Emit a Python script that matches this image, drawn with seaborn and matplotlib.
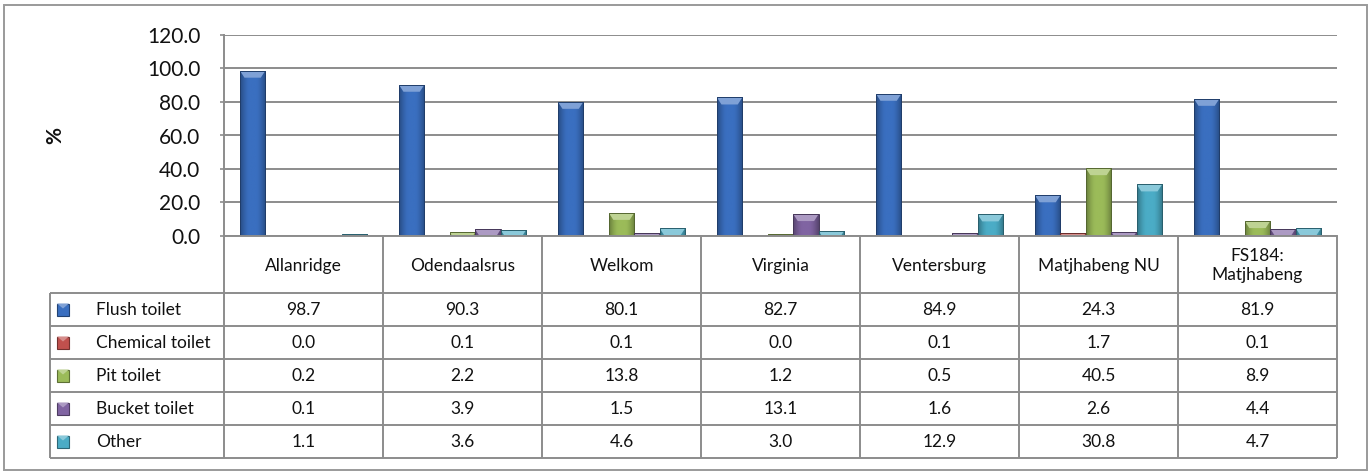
import matplotlib
matplotlib.use("Agg")
import matplotlib.pyplot as plt
from matplotlib.lines import Line2D
from matplotlib.patches import Rectangle, Polygon
from matplotlib.colors import to_rgb
import numpy as np
import pandas as pd
import seaborn as sns

# Toilet facilities by area (% of households)
areas = ["Allanridge", "Odendaalsrus", "Welkom", "Virginia", "Ventersburg",
         "Matjhabeng NU", "FS184:\nMatjhabeng"]
toilet_types = ["Flush toilet", "Chemical toilet", "Pit toilet", "Bucket toilet", "Other"]
flush = [98.7, 90.3, 80.1, 82.7, 84.9, 24.3, 81.9]
chemical = [0.0, 0.1, 0.1, 0.0, 0.1, 1.7, 0.1]
pit = [0.2, 2.2, 13.8, 1.2, 0.5, 40.5, 8.9]
bucket = [0.1, 3.9, 1.5, 13.1, 1.6, 2.6, 4.4]
other = [1.1, 3.6, 4.6, 3.0, 12.9, 30.8, 4.7]
y_ticks = [0, 20, 40, 60, 80, 100, 120]

series = [flush, chemical, pit, bucket, other]
colors = ["#3a6fc0", "#c0504d", "#9bbb59", "#8064a2", "#4bacc6"]

df = pd.DataFrame({
    "area": np.repeat(areas, len(toilet_types)),
    "type": toilet_types * len(areas),
    "value": [s[i] for i in range(len(areas)) for s in series],
})

sns.set_theme(style="white")
plt.rcParams["font.family"] = ["Lato", "DejaVu Sans"]

W, H = 1370, 473
fig = plt.figure(figsize=(W / 100, H / 100), dpi=100)

# plot area in pixel coordinates
px_left, px_right, px_top, px_bottom = 224, 1337, 35, 236
ax = fig.add_axes([px_left / W, 1 - px_bottom / H,
                   (px_right - px_left) / W, (px_bottom - px_top) / H])

sns.barplot(data=df, x="area", y="value", hue="type", order=areas,
            hue_order=toilet_types, palette=colors, ax=ax, legend=False,
            width=0.8, linewidth=0, saturation=1)

ax.set_xlim(-0.5, len(areas) - 0.5)
ax.set_ylim(0, 120)


def shade(c, f):
    r = np.array(to_rgb(c))
    return tuple(np.clip(r * f, 0, 1)) if f < 1 else tuple(r + (1 - r) * (f - 1))


# bevelled look: darker sides, lighter top facet
units_per_px = 120 / (px_bottom - px_top)
prof = np.linspace(-1, 1, 64)
weight = np.clip(np.abs(prof) * 1.25 - 0.35, 0, 1) ** 1.5
for container, c in zip(ax.containers, colors):
    base = np.array(to_rgb(c))
    dark = np.array(shade(c, 0.62))
    grad = base[None, :] * (1 - weight[:, None]) + dark[None, :] * weight[:, None]
    img = grad[None, :, :]
    for p in container:
        x0, w, h = p.get_x(), p.get_width(), p.get_height()
        if h <= 0:
            continue
        im = ax.imshow(img, extent=[x0, x0 + w, 0, h], aspect="auto",
                       interpolation="bilinear", zorder=p.get_zorder() + 0.1)
        im.set_clip_path(p)
        depth = 7 * units_per_px
        top = Polygon([[x0, h], [x0 + w, h], [x0 + w * 0.82, h - depth],
                       [x0 + w * 0.18, h - depth]], closed=True,
                      facecolor=shade(c, 1.35), edgecolor="none",
                      zorder=p.get_zorder() + 0.2)
        ax.add_patch(top)
        top.set_clip_path(p)
        outline = Rectangle((x0, 0), w, h, fill=False, edgecolor=shade(c, 0.55),
                            linewidth=0.7, zorder=p.get_zorder() + 0.3)
        ax.add_patch(outline)

ax.set_xlim(-0.5, len(areas) - 0.5)
ax.set_ylim(0, 120)
ax.set_yticks(y_ticks)
ax.set_yticklabels([f"{v:.1f}" for v in y_ticks], fontsize=15, color="#111111")
ax.set_xticks([])
ax.set_xlabel("")
ax.set_ylabel("")
ax.yaxis.grid(True, color="#8c8c8c", linewidth=1.4)
ax.set_axisbelow(True)
ax.tick_params(axis="y", length=3, width=1.2, color="#8c8c8c", pad=14, left=True)
for side in ["top", "right"]:
    ax.spines[side].set_visible(False)
for side in ["left", "bottom"]:
    ax.spines[side].set_visible(True)
    ax.spines[side].set_color("#8c8c8c")
    ax.spines[side].set_linewidth(1.4)
    ax.spines[side].set_zorder(5)

fig.text(55 / W, 1 - 135 / H, "%", rotation=90, ha="center", va="center",
         fontsize=15, fontweight="bold", color="#111111")

# data table below the plot, drawn on a full-figure overlay in pixel units
ov = fig.add_axes([0, 0, 1, 1], zorder=-1)
ov.set_xlim(0, W)
ov.set_ylim(H, 0)
ov.axis("off")

line_kw = dict(color="#8c8c8c", linewidth=1.4, solid_capstyle="butt")
# outer chart frame
ov.add_patch(Rectangle((4, 5), 1363, 465, fill=False, edgecolor="#9a9a9a", linewidth=1.4))

tbl_left = 50
row_top = 293
row_h = 33
n_rows = len(toilet_types)
col_w = (px_right - px_left) / len(areas)
tbl_bottom = row_top + n_rows * row_h
fs = 12.5

# horizontal rules
for r in range(n_rows + 1):
    y = row_top + r * row_h
    ov.add_line(Line2D([tbl_left, px_right], [y, y], **line_kw))
# vertical rules
ov.add_line(Line2D([tbl_left, tbl_left], [row_top, tbl_bottom], **line_kw))
for k in range(len(areas) + 1):
    x = px_left + k * col_w
    ov.add_line(Line2D([x, x], [px_bottom, tbl_bottom], **line_kw))

# header with area names
for k, name in enumerate(areas):
    ov.text(px_left + (k + 0.5) * col_w, (px_bottom + row_top) / 2 + 1, name,
            ha="center", va="center", fontsize=fs, color="#111111",
            linespacing=1.3)

# rows: legend key, series name and values
for r, (name, vals, c) in enumerate(zip(toilet_types, series, colors)):
    yc = row_top + (r + 0.5) * row_h
    ov.add_patch(Rectangle((57, yc - 6), 12, 12, facecolor=c,
                           edgecolor=shade(c, 0.6), linewidth=0.8))
    ov.add_patch(Polygon([[57, yc - 6], [69, yc - 6], [63, yc - 1]], closed=True,
                         facecolor=shade(c, 1.35), edgecolor="none"))
    ov.text(96, yc, name, ha="left", va="center", fontsize=fs, color="#111111")
    for k, v in enumerate(vals):
        ov.text(px_left + (k + 0.5) * col_w, yc, f"{v:.1f}", ha="center",
                va="center", fontsize=fs, color="#111111")

fig.savefig("out.png", dpi=100, facecolor="white")
